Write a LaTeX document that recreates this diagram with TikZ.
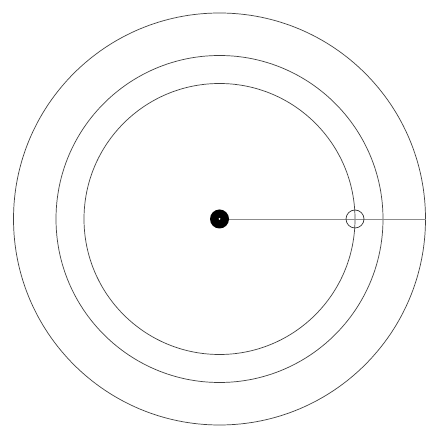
\documentclass[tikz,border=0pt]{standalone}
\usepackage{tikz}
\usetikzlibrary{calc}

\begin{document}
\begin{tikzpicture}
			[x=1pt,y=1pt,
			orbit/.style={draw=black!75,line width=0.7pt},
			every node/.style={circle,inner sep=0pt},
			sun/.style={fill=black,minimum size=19pt},
			planet/.style={draw=black!80,line width=0.7pt,minimum size=18pt}]
			\useasboundingbox (0,0) rectangle (441,438);
			\coordinate (o) at (219.5,219);
			\draw[orbit] (o) circle (206);
			\draw[orbit] (o) circle (163.5);
			\draw[orbit] (o) circle (135.5);
			\coordinate (rim) at ($(o)+(206,0)$);
			\draw[black!45,line width=0.8pt] (o) -- (rim);
			\node[sun] (sun) at (o) {};
			\node[fill=white,minimum size=2pt] (dot) at (sun) {};
			\node[planet] (planet) at ($(o)+(135.5,0)$) {};
		\end{tikzpicture}
\end{document}
